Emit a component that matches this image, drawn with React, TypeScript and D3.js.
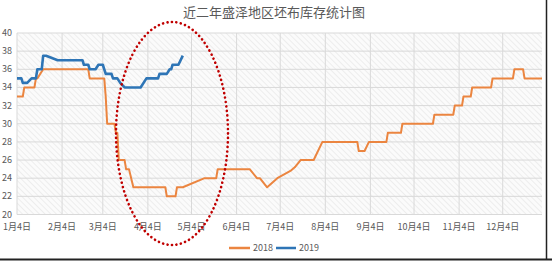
import React from "react";
import * as d3 from "d3";

const title = "近二年盛泽地区坯布库存统计图";
const seriesNames = ["2018", "2019"];
const seriesColors = ["#EB8540", "#2E75B6"];

const dates2018 = [
  "01-04","01-08","01-09","01-16","01-17","01-18","01-22","02-22","02-23","03-05",
  "03-06","03-07","03-12","03-13","03-14","03-15","03-19","03-20","03-22","03-25",
  "04-16","04-17","04-23","04-24","04-28","05-13","05-21","05-22","06-13","06-18",
  "06-20","06-25","07-02","07-11","07-14","07-18","07-27","08-02","08-26","08-27",
  "08-31","09-03","09-15","09-16","09-25","09-26","10-17","10-18","10-31","11-01",
  "11-06","11-07","11-12","11-13","11-26","11-27","12-11","12-12","12-18","12-19","12-31",
];
const values2018 = [
  33,33,34,34,35,35,36,36,35,35,
  33,30,30,29,29,26,26,25,25,23,
  23,22,22,23,23,24,24,25,25,24,
  24,23,24,24.8,25.2,26,26,28,28,27,
  27,28,28,29,29,30,30,31,31,32,
  32,33,33,34,34,35,35,36,36,35,35,
];

const dates2019 = [
  "01-04","01-07","01-08","01-11","01-14","01-17","01-18","01-21","01-22","01-24",
  "02-01","02-18","02-19","02-22","02-23","02-27","03-01","03-04","03-06","03-10",
  "03-11","03-14","03-16","03-19","03-30","04-03","04-11","04-12","04-17","04-19",
  "04-20","04-21","04-25","04-28",
];
const values2019 = [
  35,35,34.5,34.5,35,35,36,36,37.5,37.5,
  37,37,36.5,36.5,36,36,36.5,36.5,35.5,35.5,
  35,35,34.5,34,34,35,35,35.5,35.5,36,
  36,36.5,36.5,37.5,
];

const xTickDates = ["01-04","02-04","03-04","04-04","05-04","06-04","07-04","08-04","09-04","10-04","11-04","12-04"];
const xTickLabels = ["1月4日","2月4日","3月4日","4月4日","5月4日","6月4日","7月4日","8月4日","9月4日","10月4日","11月4日","12月4日"];
const yTicks = [20, 22, 24, 26, 28, 30, 32, 34, 36, 38, 40];

const parse = (md: string) => d3.timeParse("%Y-%m-%d")("2018-" + md) as Date;

export default function App() {
  const W = 552, H = 261;
  const left = 17, right = 542, top = 33, bottom = 214.5;
  const x = d3.scaleTime().domain([parse("01-04"), parse("12-31")]).range([left, right]);
  const y = d3.scaleLinear().domain([20, 40]).range([bottom, top]);
  const line = d3
    .line<[Date, number]>()
    .x((d) => x(d[0]))
    .y((d) => y(d[1]));
  const s2018: [Date, number][] = dates2018.map((d, i) => [parse(d), values2018[i]]);
  const s2019: [Date, number][] = dates2019.map((d, i) => [parse(d), values2019[i]]);
  const font = "'Microsoft YaHei','Noto Sans CJK SC','DejaVu Sans',sans-serif";
  const textColor = "#595959";

  return (
    <svg
      width={W}
      height={H}
      style={{ position: "absolute", left: 0, top: 0, background: "#fff" }}
      fontFamily={font}
    >
      <defs>
        <pattern id="hatch" patternUnits="userSpaceOnUse" width="4" height="4" patternTransform="rotate(-45)">
          <rect width="4" height="4" fill="#fbfbfb" />
          <line x1="0" y1="0" x2="0" y2="4" stroke="#e0e0e0" strokeWidth="1" />
        </pattern>
      </defs>
      <text x={274} y={17} textAnchor="middle" fontSize={13} fill={textColor}>
        {title}
      </text>
      <rect x={left} y={top} width={right - left} height={bottom - top} fill="url(#hatch)" />
      {yTicks.map((t) => (
        <g key={t}>
          <line x1={left} x2={right} y1={y(t)} y2={y(t)} stroke="#d9d9d9" strokeWidth={1} />
          <text x={12} y={y(t) + 3} textAnchor="end" fontSize={9} fill={textColor}>
            {t}
          </text>
        </g>
      ))}
      {xTickDates.map((t, i) => (
        <g key={t}>
          <line x1={x(parse(t))} x2={x(parse(t))} y1={top} y2={bottom} stroke="#d9d9d9" strokeWidth={1} />
          <text x={x(parse(t))} y={230} textAnchor="middle" fontSize={9} fill={textColor}>
            {xTickLabels[i]}
          </text>
        </g>
      ))}
      <path d={line(s2018) || ""} fill="none" stroke={seriesColors[0]} strokeWidth={2} strokeLinejoin="round" />
      <path d={line(s2019) || ""} fill="none" stroke={seriesColors[1]} strokeWidth={2.6} strokeLinejoin="round" />
      <ellipse
        cx={172}
        cy={133.5}
        rx={56}
        ry={111.5}
        fill="none"
        stroke="#C00000"
        strokeWidth={2.6}
        strokeDasharray="0.1 4.4"
        strokeLinecap="round"
      />
      <g>
        <line x1={229} x2={250} y1={248} y2={248} stroke={seriesColors[0]} strokeWidth={2.5} />
        <text x={253} y={251} fontSize={9} fill={textColor}>{seriesNames[0]}</text>
        <line x1={276} x2={296} y1={248} y2={248} stroke={seriesColors[1]} strokeWidth={2.5} />
        <text x={299} y={251} fontSize={9} fill={textColor}>{seriesNames[1]}</text>
      </g>
      <line x1={0} x2={W} y1={259.5} y2={259.5} stroke="#222" strokeWidth={2} />
      <line x1={546.5} x2={546.5} y1={0} y2={260} stroke="#222" strokeWidth={1.5} />
    </svg>
  );
}
